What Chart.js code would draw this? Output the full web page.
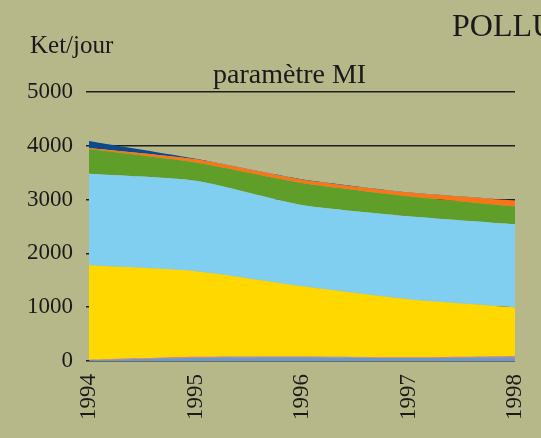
<!DOCTYPE html>
<html>
<head>
<meta charset="utf-8">
<script src="https://cdn.jsdelivr.net/npm/chart.js@4/dist/chart.umd.min.js"></script>
<style>
  html, body { margin: 0; padding: 0; background: #b6b889; }
  #wrap { width: 541px; height: 438px; }
</style>
</head>
<body>
<div id="wrap"><canvas id="chart" width="541" height="438"></canvas></div>
<script>
(function () {
  'use strict';

  const years = ['1994', '1995', '1996', '1997', '1998'];
  const yTicks = [0, 1000, 2000, 3000, 4000, 5000];

  // stacked layers, bottom to top (Ket/jour)
  const blueBase = [15, 60, 70, 55, 70];
  const pinkLayer = [10, 20, 15, 15, 25];
  const yellowLayer = [1755, 1590, 1305, 1080, 905];
  const skyLayer = [1700, 1680, 1510, 1540, 1540];
  const greenLayer = [460, 340, 410, 370, 330];
  const orangeLayer = [20, 60, 60, 70, 110];
  const navyLayer = [130, 10, 10, 5, 5];

  const serif = '"Liberation Serif", "DejaVu Serif", serif';

  function layer(label, data, color, fill) {
    return {
      label: label,
      data: data,
      backgroundColor: color,
      borderColor: color,
      borderWidth: 0,
      pointRadius: 0,
      tension: 0.2,
      fill: fill
    };
  }

  const textPlugin = {
    id: 'texts',
    afterDraw: function (chart) {
      const c = chart.ctx;
      c.save();
      c.fillStyle = '#1a1a1a';
      c.textBaseline = 'alphabetic';
      c.font = '25px ' + serif;
      c.textAlign = 'left';
      c.fillText('Ket/jour', 30, 53);
      c.font = '28px ' + serif;
      c.fillText('paramètre MI', 213, 83);
      c.font = '32px ' + serif;
      c.fillText('POLLU', 452, 36);
      c.restore();
    }
  };

  new Chart(document.getElementById('chart'), {
    type: 'line',
    data: {
      labels: years,
      datasets: [
        layer('bleu', blueBase, '#6b98cc', 'origin'),
        layer('rose', pinkLayer, '#e8807a', '-1'),
        layer('jaune', yellowLayer, '#ffd800', '-1'),
        layer('ciel', skyLayer, '#80cef0', '-1'),
        layer('vert', greenLayer, '#5f9f29', '-1'),
        layer('orange', orangeLayer, '#ff7314', '-1'),
        layer('marine', navyLayer, '#0b4a8c', '-1')
      ]
    },
    options: {
      responsive: false,
      animation: false,
      layout: { padding: { left: 14, right: 26, top: 92, bottom: 13 } },
      plugins: {
        legend: { display: false },
        tooltip: { enabled: false }
      },
      scales: {
        x: {
          offset: false,
          grid: { display: false },
          border: { display: false },
          afterFit: function (scale) {
            scale.paddingLeft = 0;
            scale.paddingRight = 0;
          },
          ticks: {
            color: '#1a1a1a',
            font: { family: serif, size: 23 },
            maxRotation: 90,
            minRotation: 90,
            padding: 5
          }
        },
        y: {
          stacked: true,
          min: 0,
          max: 5000,
          z: 1,
          afterBuildTicks: function (axis) {
            axis.ticks = yTicks.map(function (v) { return { value: v }; });
          },
          border: { display: false },
          grid: {
            color: '#1e1e1e',
            lineWidth: 1.5,
            drawTicks: true,
            tickLength: 3
          },
          ticks: {
            color: '#1a1a1a',
            font: { family: serif, size: 23 },
            padding: 13,
            callback: function (v) { return String(v); }
          }
        }
      }
    },
    plugins: [textPlugin]
  });
})();
</script>
</body>
</html>
